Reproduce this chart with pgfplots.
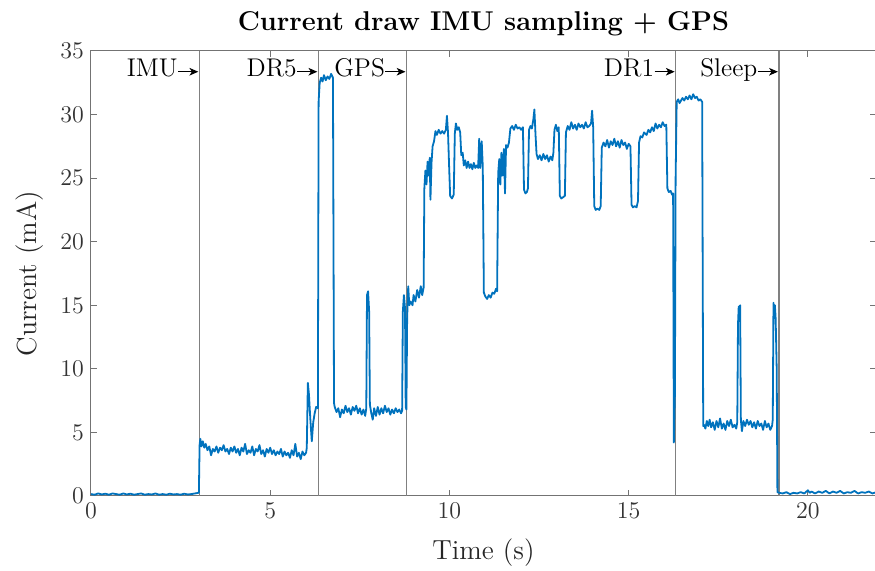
\documentclass[border=0pt]{standalone}
\usepackage{pgfplots}
\pgfplotsset{compat=1.18}
\usetikzlibrary{arrows.meta}
\definecolor{mblue}{rgb}{0,0.447,0.741}
\definecolor{vgray}{rgb}{0.5,0.5,0.5}
\newcommand{\phase}[2]{\node[anchor=base east, inner sep=0pt, font=\fontsize{12.8}{14}\selectfont] at (axis cs:#1,32.96) {#2\tikz[baseline=0pt]{\draw[line width=0.55pt,-{Stealth[length=4.4pt,width=3.8pt,inset=1.2pt]}] (0,2.6pt) -- (10pt,2.6pt);}\hspace{1.5pt}};}
\begin{document}
\begin{tikzpicture}
\begin{axis}[
  name=ax,
  scale only axis,
  width=392.5pt, height=222.5pt,
  xmin=0, xmax=21.9, ymin=0, ymax=35,
  xtick={0,5,10,15,20}, ytick={0,5,10,15,20,25,30,35},
  tick align=inside, tick pos=both,
  major tick length=3pt,
  axis line style={draw=black!55, line width=0.5pt},
  every tick/.style={draw=black!55, line width=0.5pt},
  tick label style={font=\fontsize{12.8}{14}\selectfont, black!80},
  every axis title shift=0pt,
  title={Current draw IMU sampling + GPS},
  title style={font=\bfseries\fontsize{13.6}{15}\selectfont, at={(axis description cs:0.5,1.047)}, anchor=base},
  xlabel={Time (s)},
  xlabel style={font=\fontsize{13.8}{16}\selectfont, at={(axis description cs:0.5,-0.1438)}, anchor=base, black!85},
  ylabel={Current (mA)},
  ylabel style={font=\fontsize{13.8}{16}\selectfont, at={(axis description cs:-0.0777,0.5)}, anchor=center, black!85},
  clip=false,
]
\addplot[vgray, line width=0.7pt] coordinates {(3.02,0) (3.02,35)};
\addplot[vgray, line width=0.7pt] coordinates {(6.34,0) (6.34,35)};
\addplot[vgray, line width=0.7pt] coordinates {(8.80,0) (8.80,35)};
\addplot[vgray, line width=0.7pt] coordinates {(16.31,0) (16.31,35)};
\addplot[vgray, line width=0.7pt] coordinates {(19.19,0) (19.19,35)};
\addplot[mblue, line width=0.9pt, line join=round] table {
x y
0 0.15
0.1 0.1
0.2 0.2
0.3 0.12
0.4 0.18
0.5 0.1
0.6 0.2
0.7 0.15
0.8 0.1
0.9 0.2
1.0 0.12
1.1 0.18
1.2 0.1
1.3 0.15
1.4 0.2
1.5 0.1
1.6 0.15
1.7 0.12
1.8 0.2
1.9 0.1
2.0 0.15
2.1 0.1
2.2 0.18
2.3 0.12
2.4 0.15
2.5 0.1
2.6 0.18
2.7 0.12
2.8 0.15
2.9 0.2
3.0 0.25
3.01 0.3
3.03 4.0
3.05 4.5
3.08 3.9
3.12 4.3
3.16 3.8
3.2 4.1
3.25 3.6
3.3 3.9
3.35 3.2
3.4 3.7
3.45 3.5
3.5 3.9
3.55 3.4
3.6 3.8
3.65 3.6
3.7 4.0
3.75 3.5
3.8 3.7
3.85 3.3
3.9 3.8
3.95 3.5
4.0 3.9
4.05 3.4
4.1 3.7
4.15 3.2
4.2 3.8
4.25 3.5
4.3 4.1
4.35 3.3
4.4 3.6
4.45 3.4
4.5 3.9
4.55 3.2
4.6 3.7
4.65 3.5
4.7 4.0
4.75 3.3
4.8 3.6
4.85 3.1
4.9 3.7
4.95 3.4
5.0 3.8
5.05 3.3
5.1 3.6
5.15 3.2
5.2 3.5
5.25 3.3
5.3 3.7
5.35 3.1
5.4 3.5
5.45 3.2
5.5 3.4
5.55 3.0
5.6 3.6
5.65 3.2
5.7 4.1
5.75 3.1
5.8 3.4
5.85 2.9
5.9 3.5
5.95 3.2
6.0 3.4
6.02 3.8
6.05 8.9
6.08 8.0
6.12 6.0
6.16 4.3
6.2 5.8
6.24 6.5
6.28 7.0
6.33 6.9
6.35 31.0
6.38 32.5
6.42 32.9
6.46 32.6
6.5 33.1
6.55 32.7
6.6 33.0
6.65 32.8
6.7 33.2
6.75 32.9
6.78 7.3
6.8 7.0
6.85 6.6
6.9 6.9
6.95 6.2
7.0 6.8
7.05 6.5
7.1 7.1
7.15 6.6
7.2 6.9
7.25 6.4
7.3 7.0
7.35 6.7
7.4 7.1
7.45 6.5
7.5 6.9
7.55 6.4
7.6 6.8
7.65 6.3
7.68 6.9
7.7 15.8
7.73 16.1
7.76 14.5
7.78 7.2
7.82 6.5
7.86 6.0
7.9 6.9
7.95 6.3
8.0 7.0
8.05 6.4
8.1 6.9
8.15 6.5
8.2 7.1
8.25 6.6
8.3 6.9
8.35 6.4
8.4 6.8
8.45 6.5
8.5 6.9
8.55 6.6
8.6 6.8
8.65 6.5
8.68 6.7
8.7 14.5
8.73 15.8
8.76 14.8
8.78 7.0
8.8 6.8
8.82 14.0
8.85 16.5
8.88 15.0
8.92 15.3
8.97 15.0
9.0 15.8
9.05 15.3
9.1 16.2
9.15 15.6
9.2 16.5
9.24 15.8
9.28 16.4
9.3 24.2
9.33 25.6
9.36 24.5
9.39 26.3
9.42 25.2
9.45 26.6
9.47 23.3
9.5 26.2
9.53 27.5
9.57 27.9
9.61 28.7
9.65 28.4
9.7 28.8
9.75 28.5
9.8 28.7
9.85 28.5
9.9 28.8
9.93 29.9
9.96 28.6
9.99 26.0
10.02 23.6
10.07 23.4
10.12 23.7
10.15 28.5
10.18 29.3
10.22 28.8
10.26 29.0
10.3 28.6
10.33 26.8
10.37 27.0
10.4 26.0
10.44 26.4
10.48 25.8
10.52 26.3
10.56 25.8
10.6 26.1
10.64 25.7
10.68 26.2
10.72 25.8
10.76 26.0
10.8 25.8
10.83 28.1
10.86 25.8
10.9 27.9
10.93 25.9
10.96 16.0
11.0 15.7
11.05 15.5
11.1 15.8
11.15 15.6
11.2 16.0
11.25 15.9
11.3 16.3
11.33 16.1
11.36 25.4
11.39 26.5
11.42 24.5
11.45 27.0
11.48 25.2
11.52 27.3
11.55 23.8
11.58 27.6
11.62 27.4
11.66 27.8
11.7 28.9
11.75 29.1
11.8 28.8
11.85 29.2
11.9 28.9
11.95 29.0
12.0 28.8
12.05 29.0
12.08 24.1
12.12 23.8
12.16 23.9
12.19 24.2
12.22 28.8
12.26 29.1
12.3 28.9
12.34 29.6
12.37 30.4
12.4 28.5
12.43 26.9
12.47 26.5
12.52 26.8
12.57 26.4
12.62 26.9
12.67 26.5
12.72 26.8
12.77 26.3
12.82 26.7
12.87 26.4
12.9 27.0
12.93 28.8
12.97 29.2
13.01 28.7
13.05 29.0
13.08 23.6
13.12 23.4
13.17 23.5
13.22 23.6
13.25 28.6
13.3 29.1
13.35 28.8
13.4 29.4
13.45 28.9
13.5 29.2
13.55 28.8
13.6 29.3
13.65 29.0
13.7 29.2
13.75 28.9
13.8 29.4
13.85 29.0
13.9 29.1
13.95 29.3
13.98 30.3
14.01 29.0
14.04 22.8
14.08 22.5
14.13 22.6
14.18 22.5
14.22 22.8
14.25 27.4
14.3 27.8
14.35 27.5
14.4 28.0
14.45 27.4
14.5 27.9
14.55 27.6
14.6 28.1
14.65 27.5
14.7 27.9
14.75 27.4
14.8 28.0
14.85 27.6
14.9 27.8
14.95 27.3
15.0 27.7
15.05 27.5
15.08 22.9
15.12 22.7
15.17 22.8
15.22 22.7
15.26 23.2
15.29 27.8
15.33 28.3
15.38 28.2
15.43 28.6
15.5 28.4
15.55 28.8
15.6 28.6
15.65 29.0
15.7 28.7
15.75 29.3
15.8 28.9
15.85 29.2
15.9 29.0
15.95 29.4
16.0 29.1
16.05 29.2
16.08 24.2
16.12 23.9
16.17 24.0
16.21 23.7
16.24 23.8
16.26 4.2
16.29 8.0
16.31 25.0
16.34 31.0
16.38 31.2
16.42 30.9
16.5 31.3
16.55 31.1
16.6 31.4
16.65 31.2
16.7 31.5
16.75 31.2
16.8 31.6
16.85 31.3
16.9 31.4
16.95 31.1
17.0 31.2
17.05 31.0
17.08 5.5
17.1 5.6
17.14 5.3
17.18 5.9
17.22 5.5
17.26 6.0
17.3 5.4
17.35 5.8
17.4 5.2
17.45 5.9
17.5 5.4
17.55 6.1
17.6 5.3
17.65 5.7
17.7 5.2
17.75 5.9
17.8 5.5
17.85 6.0
17.9 5.4
17.95 5.6
18.0 5.3
18.03 5.8
18.05 13.5
18.07 14.9
18.09 14.2
18.11 15.0
18.13 6.0
18.16 5.1
18.2 5.9
18.25 5.5
18.3 6.0
18.35 5.6
18.4 5.9
18.45 5.4
18.5 5.8
18.55 5.3
18.6 5.9
18.65 5.5
18.7 5.7
18.75 5.2
18.8 5.9
18.85 5.4
18.9 5.7
18.95 5.2
19.0 5.5
19.02 6.0
19.04 15.2
19.06 14.5
19.08 15.0
19.1 14.0
19.13 10.0
19.15 0.3
19.2 0.25
19.3 0.2
19.4 0.3
19.5 0.15
19.6 0.25
19.7 0.2
19.8 0.3
19.9 0.2
20.0 0.45
20.05 0.25
20.1 0.35
20.2 0.2
20.3 0.35
20.4 0.25
20.5 0.4
20.6 0.2
20.7 0.35
20.8 0.25
20.9 0.4
21.0 0.2
21.1 0.3
21.2 0.25
21.3 0.4
21.4 0.2
21.5 0.3
21.6 0.25
21.7 0.35
21.8 0.2
21.9 0.3
};
\phase{3.02}{IMU}
\phase{6.34}{DR5}
\phase{8.80}{GPS}
\phase{16.31}{DR1}
\phase{19.19}{Sleep}
\end{axis}
\pgfresetboundingbox
\path ([shift={(-45.5pt,-37.5pt)}]ax.south west) rectangle ++(437.5pt,285.5pt);
\end{tikzpicture}
\end{document}
